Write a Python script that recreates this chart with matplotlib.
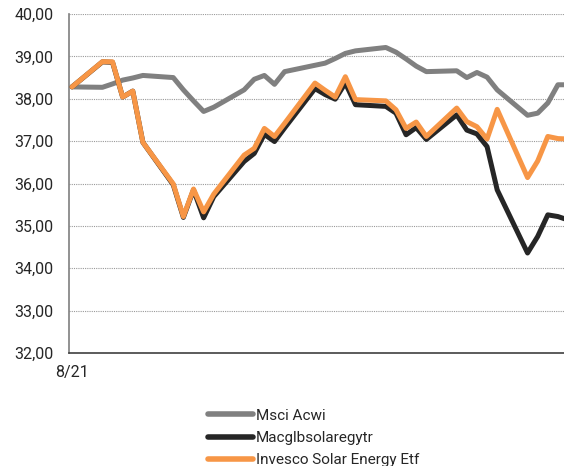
import matplotlib
matplotlib.use("Agg")
import matplotlib.pyplot as plt
from matplotlib.ticker import FixedLocator, FuncFormatter

# Trading-day offsets from the start date (8/21)
days = [0, 3, 4, 5, 6, 7, 10, 11, 12, 13, 14, 17, 18, 19, 20, 21, 24, 25, 26, 27,
        28, 31, 32, 33, 34, 35, 38, 39, 40, 41, 42, 45, 46, 47, 48, 49]

msci_acwi = [38.28, 38.27, 38.35, 38.44, 38.49, 38.55, 38.50, 38.21, 37.95, 37.70,
             37.80, 38.21, 38.46, 38.55, 38.34, 38.64, 38.79, 38.84, 38.95, 39.07,
             39.13, 39.21, 39.10, 38.94, 38.77, 38.64, 38.66, 38.50, 38.62, 38.51,
             38.21, 37.61, 37.66, 37.90, 38.33, 38.33]

macglbsolaregytr = [38.28, 38.87, 38.86, 38.04, 38.18, 36.97, 35.97, 35.20, 35.85, 35.19,
                    35.69, 36.52, 36.71, 37.16, 36.99, 37.31, 38.24, 38.10, 37.99, 38.37,
                    37.86, 37.82, 37.66, 37.15, 37.32, 37.04, 37.62, 37.26, 37.17, 36.87,
                    35.85, 34.36, 34.75, 35.26, 35.22, 35.14]

invesco_solar = [38.28, 38.875, 38.87, 38.04, 38.18, 36.97, 35.99, 35.22, 35.87, 35.33,
                 35.75, 36.67, 36.83, 37.30, 37.11, 37.42, 38.37, 38.20, 38.04, 38.52,
                 37.98, 37.95, 37.74, 37.30, 37.45, 37.11, 37.78, 37.46, 37.34, 37.05,
                 37.75, 36.14, 36.53, 37.11, 37.06, 37.05]

series_names = ["Msci Acwi", "Macglbsolaregytr", "Invesco Solar Energy Etf"]
series_colors = ["#808080", "#262626", "#F79646"]

y_ticks = [32, 33, 34, 35, 36, 37, 38, 39, 40]
x_tick_labels = ["8/21"]

plt.rcParams["font.family"] = ["Roboto", "DejaVu Sans"]

fig = plt.figure(figsize=(5.64, 4.66), dpi=100)
ax = fig.add_axes([69 / 564, 1 - 353 / 466, 1 - 69 / 564, (353 - 14) / 466])

for vals, name, col, z in zip([msci_acwi, macglbsolaregytr, invesco_solar],
                              series_names, series_colors, [3, 4, 5]):
    ax.plot(days, vals, color=col, lw=3.6, label=name, zorder=z,
            solid_joinstyle="round", solid_capstyle="round")

ax.set_ylim(32, 40)
ax.set_xlim(-0.3, 48.6)
ax.yaxis.set_major_locator(FixedLocator(y_ticks))
ax.yaxis.set_major_formatter(FuncFormatter(lambda v, p: f"{v:.2f}".replace(".", ",")))
ax.set_xticks([days[0]])
ax.set_xticklabels(x_tick_labels)

ax.grid(axis="y", color="#9a9a9a", linestyle=(0, (1, 1)), linewidth=0.8, zorder=0)
ax.set_axisbelow(True)

for s in ["top", "right"]:
    ax.spines[s].set_visible(False)
ax.spines["left"].set_color("#7f7f7f")
ax.spines["left"].set_linewidth(1.2)
ax.spines["bottom"].set_color("#404040")
ax.spines["bottom"].set_linewidth(1.2)

ax.tick_params(axis="y", length=0, pad=11, labelsize=11.5, labelcolor="#262626")
ax.tick_params(axis="x", length=0, pad=9, labelsize=11.5, labelcolor="#262626")

leg = fig.legend(loc="upper left", bbox_to_anchor=(200 / 564, 1 - 401 / 466),
                 frameon=False, fontsize=11, handlelength=3.0, handletextpad=0.15,
                 labelspacing=0.55, borderpad=0)
for h in leg.get_lines():
    h.set_linewidth(4)
    h.set_solid_capstyle("round")
for t in leg.get_texts():
    t.set_color("#262626")

fig.savefig("out.png", dpi=100)
